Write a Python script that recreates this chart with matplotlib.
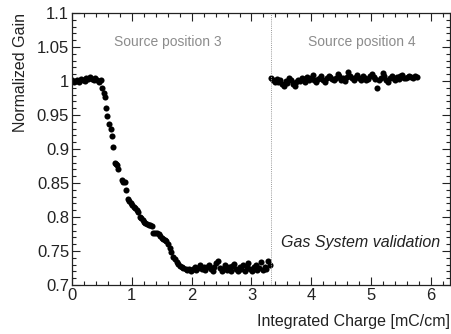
import matplotlib
matplotlib.use("Agg")
import matplotlib.pyplot as plt
from matplotlib.ticker import MultipleLocator, FuncFormatter

plt.rcParams["font.family"] = ["Liberation Sans", "DejaVu Sans"]

# source position 3 : initial plateau
x_flat = [0.00, 0.03, 0.06, 0.09, 0.12, 0.15, 0.18, 0.21, 0.24, 0.27,
          0.30, 0.33, 0.36, 0.39, 0.42, 0.45, 0.48]
y_flat = [1.001, 0.999, 1.000, 1.002, 0.999, 1.003, 1.001, 1.000, 1.005, 1.003,
          1.006, 1.003, 1.001, 1.005, 1.002, 0.999, 1.001]

# gain drop
x_drop = [0.50, 0.53, 0.55, 0.57, 0.59, 0.62, 0.65, 0.67, 0.69, 0.72,
          0.74, 0.76, 0.77, 0.83, 0.85, 0.89, 0.91, 0.94, 0.96, 0.98,
          1.01, 1.03, 1.05, 1.08, 1.11, 1.14, 1.16, 1.18, 1.20, 1.22,
          1.25, 1.28, 1.31, 1.33, 1.36, 1.39, 1.42, 1.45, 1.47, 1.50,
          1.52, 1.55, 1.57, 1.61, 1.64, 1.66, 1.69, 1.72, 1.75, 1.78,
          1.81, 1.84, 1.86, 1.90]
y_drop = [0.990, 0.983, 0.976, 0.960, 0.948, 0.937, 0.930, 0.919, 0.903, 0.879,
          0.878, 0.876, 0.870, 0.855, 0.852, 0.852, 0.839, 0.826, 0.823, 0.821,
          0.818, 0.815, 0.813, 0.810, 0.807, 0.800, 0.798, 0.796, 0.793, 0.791,
          0.789, 0.788, 0.788, 0.787, 0.777, 0.776, 0.777, 0.775, 0.772, 0.769,
          0.768, 0.766, 0.764, 0.761, 0.755, 0.749, 0.741, 0.738, 0.734, 0.731,
          0.728, 0.726, 0.725, 0.724]

# low plateau
x_low = [1.93, 1.96, 1.99, 2.02, 2.05, 2.08, 2.11, 2.14, 2.17, 2.20,
         2.23, 2.26, 2.29, 2.32, 2.35, 2.38, 2.41, 2.44, 2.47, 2.50,
         2.53, 2.56, 2.59, 2.62, 2.65, 2.68, 2.71, 2.74, 2.77, 2.80,
         2.83, 2.86, 2.89, 2.92, 2.95, 2.98, 3.01, 3.04, 3.07, 3.10,
         3.13, 3.16, 3.19, 3.22, 3.25, 3.28, 3.31]
y_low = [0.722, 0.724, 0.721, 0.723, 0.726, 0.722, 0.725, 0.729, 0.724, 0.726,
         0.722, 0.727, 0.730, 0.724, 0.721, 0.727, 0.732, 0.736, 0.725, 0.720,
         0.724, 0.729, 0.722, 0.726, 0.721, 0.728, 0.731, 0.724, 0.720, 0.727,
         0.723, 0.729, 0.721, 0.726, 0.733, 0.724, 0.720, 0.727, 0.730, 0.722,
         0.725, 0.734, 0.722, 0.727, 0.723, 0.735, 0.729]

# source position 4
x_pos4 = [3.33, 3.36, 3.39, 3.42, 3.45, 3.48, 3.51, 3.54, 3.57, 3.60,
          3.63, 3.66, 3.69, 3.72, 3.75, 3.78, 3.81, 3.84, 3.87, 3.90,
          3.93, 3.96, 3.99, 4.02, 4.05, 4.08, 4.11, 4.14, 4.17, 4.20,
          4.23, 4.26, 4.29, 4.32, 4.35, 4.38, 4.41, 4.44, 4.47, 4.50,
          4.53, 4.56, 4.59, 4.62, 4.65, 4.68, 4.71, 4.74, 4.77, 4.80,
          4.83, 4.86, 4.89, 4.92, 4.95, 4.98, 5.01, 5.04, 5.07, 5.10,
          5.13, 5.16, 5.19, 5.22, 5.25, 5.28, 5.31, 5.34, 5.37, 5.40,
          5.43, 5.46, 5.49, 5.52, 5.55, 5.58, 5.61, 5.64, 5.67, 5.70,
          5.73, 5.76]
y_pos4 = [1.005, 1.002, 0.999, 1.003, 0.998, 1.001, 0.996, 0.993, 1.000, 0.997,
          1.004, 1.001, 0.995, 0.992, 0.998, 1.002, 1.000, 1.005, 1.003, 0.999,
          1.006, 1.002, 1.004, 1.009, 1.001, 0.998, 1.003, 1.005, 1.007, 1.002,
          0.999, 1.004, 1.008, 1.006, 1.003, 1.001, 1.005, 1.010, 1.007, 1.002,
          1.004, 1.000, 1.006, 1.013, 1.008, 1.004, 1.001, 1.006, 1.009, 1.004,
          1.002, 1.007, 1.005, 1.001, 1.003, 1.008, 1.010, 1.006, 1.003, 0.990,
          1.002, 1.005, 1.012, 1.007, 1.001, 0.999, 1.004, 1.008, 1.005, 1.002,
          1.006, 1.003, 1.007, 1.009, 1.005, 1.004, 1.006, 1.008, 1.006, 1.005,
          1.007, 1.006]

x_all = x_flat + x_drop + x_low + x_pos4
y_all = y_flat + y_drop + y_low + y_pos4

fig = plt.figure(figsize=(4.51, 3.34), dpi=100)
ax = fig.add_axes([0.1596, 0.1467, 0.8385, 0.8143])

ax.plot(x_all, y_all, "o", color="black", markersize=4.4, markeredgewidth=0)

# boundary between the two source positions
ax.axvline(3.32, color="#999999", linestyle=(0, (1, 1.2)), linewidth=0.7)

ax.set_xlim(0, 6.32)
ax.set_ylim(0.7, 1.1)

# ROOT style ticks
ax.xaxis.set_major_locator(MultipleLocator(1))
ax.xaxis.set_minor_locator(MultipleLocator(0.2))
ax.yaxis.set_major_locator(MultipleLocator(0.05))
ax.yaxis.set_minor_locator(MultipleLocator(0.01))
ax.yaxis.set_major_formatter(FuncFormatter(lambda v, pos: f"{v:g}"))
ax.tick_params(which="both", direction="in", top=True, right=True,
               labelsize=12, colors="#222222", width=0.8)
ax.tick_params(which="major", length=6, pad=2)
ax.tick_params(which="minor", length=3)
for s in ax.spines.values():
    s.set_linewidth(0.9)
    s.set_color("#222222")

ax.set_xlabel("Integrated Charge [mC/cm]", fontsize=11.5, color="#222222",
              loc="right", labelpad=8)
ax.set_ylabel("Normalized Gain", fontsize=11.5, color="#222222",
              loc="top", labelpad=6)

ax.text(1.6, 1.057, "Source position 3", color="#8c8c8c", fontsize=10,
        ha="center", va="center")
ax.text(4.84, 1.057, "Source position 4", color="#8c8c8c", fontsize=10,
        ha="center", va="center")
ax.text(6.15, 0.763, "Gas System validation", color="#222222", fontsize=11.5,
        style="italic", ha="right", va="center")

fig.savefig("out.png", dpi=100)
